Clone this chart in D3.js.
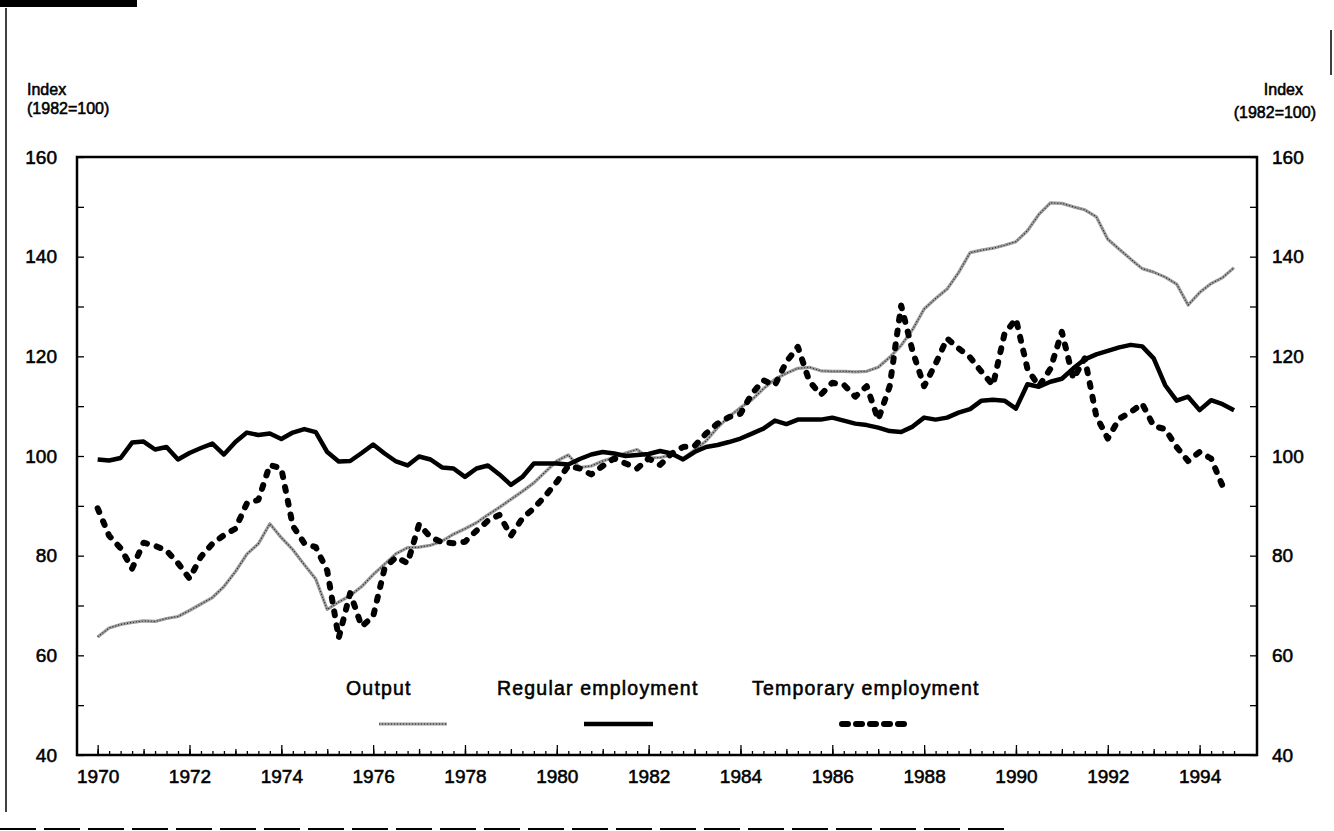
<!DOCTYPE html>
<html>
<head>
<meta charset="utf-8">
<script src="https://cdn.jsdelivr.net/npm/d3@7"></script>
<style>
  body { margin: 0; background: #fff; }
  svg { display: block; }
  svg text { font-family: "Liberation Sans", Arial, sans-serif; fill: #000; stroke: #000; stroke-width: 0.55; }
  .axis text { font-size: 19px; }
  .axis line { stroke: #000; stroke-width: 1.3; }
</style>
</head>
<body>
<div id="chart"></div>
<script>
// quarterly data, 1970Q1 .. 1994Q4
const years = d3.range(1970, 1995);
const quarters = [0, 0.25, 0.5, 0.75];

const output = [
  63.7, 65.5, 66.2, 66.6,  66.9, 66.8, 67.4, 67.8,  69.0, 70.3, 71.6, 73.8,
  76.8, 80.3, 82.4, 86.4,  83.6, 81.2, 78.2, 75.3,  69.2, 70.7, 72.0, 73.8,
  76.2, 78.3, 80.4, 81.6,  81.7, 82.1, 82.9, 84.3,  85.4, 86.6, 88.2, 89.7,
  91.3, 92.9, 94.6, 96.8,  99.0, 100.2, 97.7, 98.0, 99.0, 99.7, 100.6, 101.3,
  99.6, 99.7, 100.2, 99.5, 101.2, 103.0, 105.7, 107.9, 109.7, 111.3, 113.5, 115.4,
  116.6, 117.6, 117.8, 117.1, 117.0, 117.0, 116.9, 117.0, 117.8, 119.8, 122.2, 125.4,
  129.5, 131.6, 133.5, 136.8, 140.8, 141.3, 141.7, 142.3, 143.0, 145.2, 148.5, 150.8,
  150.7, 150.0, 149.4, 148.0, 143.5, 141.5, 139.5, 137.6, 136.9, 135.9, 134.5, 130.3,
  132.8, 134.6, 135.8, 137.8
];

const regular = [
  99.3, 99.1, 99.6, 102.7,  102.9, 101.3, 101.8, 99.3,  100.6, 101.6, 102.5, 100.3,
  102.8, 104.7, 104.2, 104.5,  103.4, 104.7, 105.4, 104.8,  100.8, 98.9, 99.0, 100.6,
  102.3, 100.5, 98.9, 98.1,  99.9, 99.3, 97.7, 97.5,  95.8, 97.5, 98.1, 96.3,
  94.2, 95.8, 98.5, 98.5,  98.5, 98.3, 99.4, 100.3,  100.8, 100.5, 100.0, 100.2,
  100.4, 101.0, 100.5, 99.3,  100.8, 101.8, 102.2, 102.8,  103.5, 104.5, 105.5, 107.1,
  106.4, 107.3, 107.3, 107.3,  107.7, 107.1, 106.5, 106.2,  105.7, 105.0, 104.8, 105.9,
  107.7, 107.3, 107.7, 108.7,  109.4, 111.1, 111.3, 111.1,  109.5, 114.4, 113.9, 114.9,
  115.5, 117.6, 119.4, 120.4,  121.1, 121.8, 122.3, 122.0,  119.6, 114.2, 111.1, 111.9,
  109.2, 111.2, 110.4, 109.2
];

const temporary = [
  89.5, 84.0, 81.5, 77.4,  82.6, 82.0, 81.0, 78.5,  75.4, 79.8, 82.4, 84.1,
  85.4, 90.5, 91.2, 98.2,  97.5, 86.0, 82.5, 81.7,  77.0, 63.5, 72.5, 65.8,
  67.8, 77.5, 79.7, 78.5,  86.3, 83.7, 82.7, 82.5,  82.8, 85.0, 87.0, 88.2,
  84.0, 87.5, 89.5, 92.0,  94.8, 98.0, 97.5, 96.3,  98.0, 99.5, 98.5, 97.5,
  99.5, 98.2, 100.5, 101.8,  102.0, 104.5, 106.5, 107.8,  108.5, 112.5, 115.2, 114.2,
  118.9, 121.9, 115.0, 112.3,  114.7, 114.3, 111.9, 114.0,  107.3, 114.0, 130.2, 121.0,
  114.0, 118.5, 123.6, 121.6,  119.8, 116.9, 114.2, 124.5,  127.5, 117.5, 114.0, 117.5,
  124.9, 115.5, 119.6, 108.0,  103.5, 107.5, 108.8, 110.5,  106.0, 105.4, 101.8, 99.0,
  100.8, 99.5, 94.0
];

const yTicks = [40, 60, 80, 100, 120, 140, 160];
const xLabels = [1970, 1972, 1974, 1976, 1978, 1980, 1982, 1984, 1986, 1988, 1990, 1992, 1994];
const seriesNames = ['Output', 'Regular employment', 'Temporary employment'];

const dates = [];
years.forEach(yr => quarters.forEach(q => dates.push(yr + q)));

const W = 1334, H = 831;
const margin = {top: 157, right: 77, bottom: 76, left: 77},
  width = W - margin.left - margin.right,
  height = H - margin.top - margin.bottom;

const svg = d3.select('#chart').append('svg')
    .attr('width', W)
    .attr('height', H);

// scan leftovers round the figure
svg.append('rect').attr('x', 0).attr('y', 0).attr('width', 137).attr('height', 7).attr('fill', '#000');
svg.append('line').attr('x1', 6).attr('x2', 6).attr('y1', 8).attr('y2', 812)
   .attr('stroke', '#000').attr('stroke-width', 1.5);
svg.append('line').attr('x1', 0).attr('x2', 1010).attr('y1', 829).attr('y2', 829)
   .attr('stroke', '#000').attr('stroke-width', 2).attr('stroke-dasharray', '36,8');
svg.append('line').attr('x1', 1331).attr('x2', 1331).attr('y1', 30).attr('y2', 75)
   .attr('stroke', '#000').attr('stroke-width', 1.5);

const g = svg.append('g')
    .attr('transform', `translate(${margin.left},${margin.top})`);

const x = d3.scaleLinear()
    .domain([1969.55, 1995.25])
    .range([0, width]);

const y = d3.scaleLinear()
    .domain([40, 160])
    .range([height, 0]);

// tick marks, all pointing inward
g.append('g').attr('class', 'axis')
    .attr('transform', `translate(0,${height})`)
    .call(d3.axisBottom(x).tickValues(dates).tickSize(-4).tickFormat(''));
g.append('g').attr('class', 'axis')
    .attr('transform', `translate(0,${height})`)
    .call(d3.axisBottom(x).tickValues(years).tickSize(-6).tickFormat(''));
g.append('g').attr('class', 'axis')
    .attr('transform', `translate(0,${height})`)
    .call(d3.axisBottom(x).tickValues(xLabels).tickSize(-10).tickPadding(15).tickFormat(d3.format('d')));

g.append('g').attr('class', 'axis')
    .call(d3.axisLeft(y).tickValues(d3.range(40, 161, 10)).tickSize(-7).tickPadding(20)
      .tickFormat(d => yTicks.includes(d) ? d : ''));
g.append('g').attr('class', 'axis')
    .attr('transform', `translate(${width},0)`)
    .call(d3.axisRight(y).tickValues(d3.range(40, 161, 10)).tickSize(-7).tickPadding(15)
      .tickFormat(d => yTicks.includes(d) ? d : ''));

g.selectAll('.axis .domain').remove();

g.append('rect')
    .attr('width', width)
    .attr('height', height)
    .attr('fill', 'none')
    .attr('stroke', '#000')
    .attr('stroke-width', 2.5);

// unit labels
const unit = [['Index', 95], ['(1982=100)', 114]];
svg.selectAll('.unitL').data(unit).enter().append('text')
    .attr('x', 27).attr('y', d => d[1])
    .attr('font-size', 16)
    .text(d => d[0]);
svg.selectAll('.unitR').data(unit).enter().append('text')
    .attr('x', (d, i) => i ? 1316 : 1303).attr('y', (d, i) => d[1] + (i ? 4 : 0))
    .attr('text-anchor', 'end')
    .attr('font-size', 16)
    .text(d => d[0]);

const line = d3.line()
    .x((d, i) => x(dates[i]))
    .y(d => y(d));

// output: grey hatched line
g.append('path').datum(output)
    .attr('fill', 'none').attr('stroke', '#9c9c9c').attr('stroke-width', 3.2)
    .attr('stroke-linejoin', 'round')
    .attr('d', line);
g.append('path').datum(output)
    .attr('fill', 'none').attr('stroke', '#222').attr('stroke-width', 1.1)
    .attr('stroke-dasharray', '1,2')
    .attr('d', line);

g.append('path').datum(regular)
    .attr('fill', 'none').attr('stroke', '#000').attr('stroke-width', 4.5)
    .attr('stroke-linejoin', 'round')
    .attr('d', line);

g.append('path').datum(temporary)
    .attr('fill', 'none').attr('stroke', '#000').attr('stroke-width', 6)
    .attr('stroke-linecap', 'round').attr('stroke-linejoin', 'round')
    .attr('stroke-dasharray', '4,10')
    .attr('d', line);

// legend
const legX = [346, 497, 752];
const legSample = [[379, 447], [584, 653], [839, 906]];
const legY = 695, sampleY = 724;
svg.selectAll('.leg').data(seriesNames).enter().append('text')
    .attr('x', (d, i) => legX[i]).attr('y', legY)
    .attr('font-size', 19.5)
    .attr('letter-spacing', 1.2)
    .text(d => d);

svg.append('line').attr('x1', legSample[0][0]).attr('x2', legSample[0][1]).attr('y1', sampleY).attr('y2', sampleY)
    .attr('stroke', '#9c9c9c').attr('stroke-width', 3.2);
svg.append('line').attr('x1', legSample[0][0]).attr('x2', legSample[0][1]).attr('y1', sampleY).attr('y2', sampleY)
    .attr('stroke', '#222').attr('stroke-width', 1.1).attr('stroke-dasharray', '1,2');
svg.append('line').attr('x1', legSample[1][0]).attr('x2', legSample[1][1]).attr('y1', sampleY).attr('y2', sampleY)
    .attr('stroke', '#000').attr('stroke-width', 4.5);
svg.append('line').attr('x1', legSample[2][0] + 3).attr('x2', legSample[2][1]).attr('y1', sampleY).attr('y2', sampleY)
    .attr('stroke', '#000').attr('stroke-width', 6).attr('stroke-linecap', 'round')
    .attr('stroke-dasharray', '6,8');
</script>
</body>
</html>
